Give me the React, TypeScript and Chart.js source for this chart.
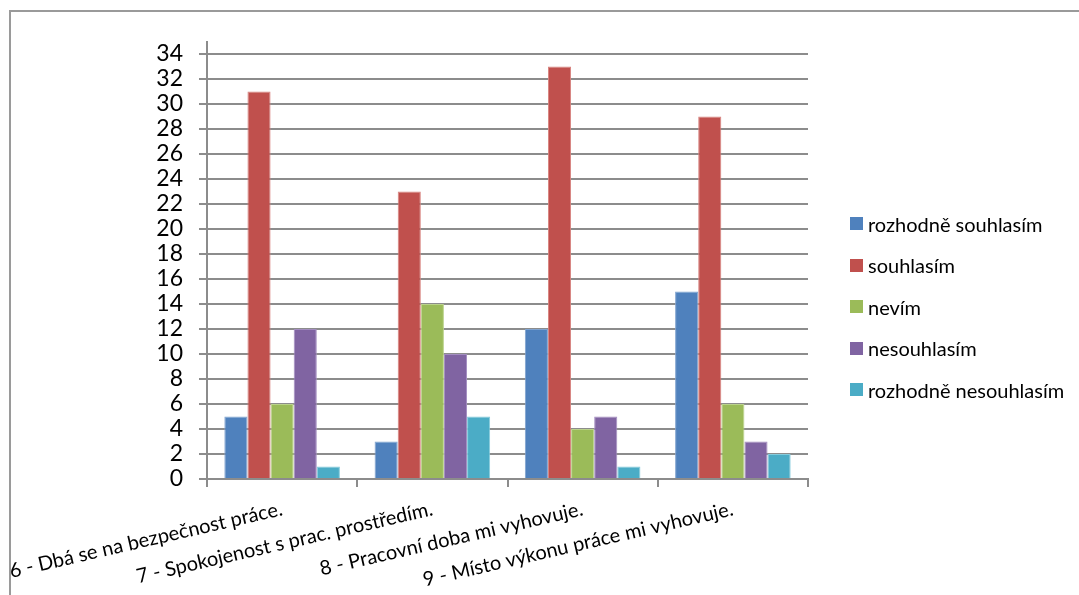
import React, { useEffect, useRef } from "react";
import { Chart, registerables } from "chart.js";

Chart.register(...registerables);

// Survey statements (categories on the x axis)
const categories = [
  "6 - Dbá se na bezpečnost práce.",
  "7 - Spokojenost s prac. prostředím.",
  "8 - Pracovní doba mi vyhovuje.",
  "9 - Místo výkonu práce mi vyhovuje.",
];

// Answer options (series)
const seriesNames = [
  "rozhodně souhlasím",
  "souhlasím",
  "nevím",
  "nesouhlasím",
  "rozhodně nesouhlasím",
];

// Number of answers per statement
const rozhodneSouhlasim = [5, 3, 12, 15];
const souhlasim = [31, 23, 33, 29];
const nevim = [6, 14, 4, 6];
const nesouhlasim = [12, 10, 5, 3];
const rozhodneNesouhlasim = [1, 5, 1, 2];

const seriesValues = [rozhodneSouhlasim, souhlasim, nevim, nesouhlasim, rozhodneNesouhlasim];

const seriesColors = ["#4F81BD", "#C0504D", "#9BBB59", "#8064A2", "#4BACC6"];
const seriesEdges = ["#7FA3D0", "#D8837F", "#BAD28A", "#A38DC0", "#84CBDC"];

// Value axis
const yMin = 0;
const yMax = 35;
const yStep = 2;

const W = 1079;
const H = 595;
const FONT = "Lato, 'Open Sans', sans-serif";
const GRID = "#8c8c8c";

export default function App() {
  const canvasRef = useRef<HTMLCanvasElement | null>(null);

  useEffect(() => {
    const canvas = canvasRef.current;
    if (!canvas) return;
    const chart = new Chart(canvas, {
      type: "bar",
      data: {
        labels: categories,
        datasets: seriesNames.map((name, i) => ({
          label: name,
          data: seriesValues[i],
          backgroundColor: seriesColors[i],
          borderColor: seriesEdges[i],
          borderWidth: 1,
          categoryPercentage: 5 / 6.5,
          barPercentage: 1,
        })),
      },
      options: {
        animation: false,
        responsive: false,
        devicePixelRatio: 1,
        layout: { padding: { left: 0, top: 41.5, right: 271, bottom: 0 } },
        plugins: {
          legend: { display: false },
          tooltip: { enabled: false },
        },
        scales: {
          x: {
            offset: true,
            grid: {
              offset: true,
              drawOnChartArea: false,
              drawTicks: true,
              tickLength: 8,
              color: GRID,
              lineWidth: 2,
            },
            border: { display: true, color: GRID, width: 2 },
            ticks: {
              autoSkip: false,
              minRotation: 13,
              maxRotation: 13,
              padding: 10,
              color: "#000",
              font: { family: FONT, size: 20 },
            },
            afterFit: (scale: any) => {
              scale.height = H - 479;
              scale.paddingLeft = 0;
              scale.paddingRight = 0;
            },
          },
          y: {
            min: yMin,
            max: yMax,
            grid: {
              drawTicks: true,
              tickLength: 8,
              color: GRID,
              lineWidth: 2,
            },
            border: { display: true, color: GRID, width: 2 },
            ticks: {
              stepSize: yStep,
              autoSkip: false,
              includeBounds: false,
              padding: 16,
              color: "#000",
              font: { family: FONT, size: 23 },
            },
            afterFit: (scale: any) => {
              scale.width = 207;
            },
          },
        },
      },
    });
    return () => chart.destroy();
  }, []);

  const legendTop = 223.5;
  const legendStep = 41.6;

  return (
    <div
      style={{
        position: "absolute",
        left: 0,
        top: 0,
        width: W,
        height: H,
        overflow: "hidden",
        background: "#fff",
      }}
    >
      <div
        style={{
          position: "absolute",
          left: 9,
          top: 10,
          width: W + 40,
          height: H + 40,
          borderLeft: "2px solid #9a9a9a",
          borderTop: "2px solid #9a9a9a",
        }}
      />
      <canvas
        ref={canvasRef}
        width={W}
        height={H}
        style={{ position: "absolute", left: 0, top: 0, width: W, height: H }}
      />
      {seriesNames.map((name, i) => (
        <div
          key={name}
          style={{
            position: "absolute",
            left: 850,
            top: legendTop + i * legendStep - 12,
            height: 24,
            display: "flex",
            alignItems: "center",
            fontFamily: FONT,
            fontSize: 20,
            color: "#000",
            whiteSpace: "nowrap",
          }}
        >
          <span
            style={{
              display: "inline-block",
              width: 13,
              height: 13,
              background: seriesColors[i],
              marginRight: 5,
            }}
          />
          {name}
        </div>
      ))}
    </div>
  );
}
